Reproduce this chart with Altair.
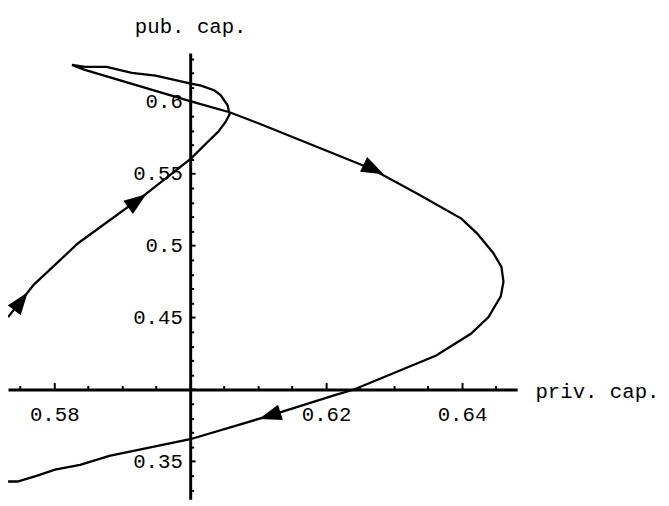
import altair as alt
import pandas as pd

# trajectory (private capital, public capital), in travel order
priv_cap = [0.5732, 0.5770, 0.5835, 0.5935, 0.6001, 0.6026, 0.6041, 0.6052, 0.6058,
            0.6055, 0.6045, 0.6036, 0.6016, 0.6001, 0.5949, 0.5914, 0.5877, 0.5845,
            0.5826, 0.5845, 0.6001, 0.6058, 0.6103, 0.6229, 0.6268, 0.6335, 0.6399,
            0.6422, 0.6446, 0.6458, 0.6461, 0.6457, 0.6439, 0.6413, 0.6362, 0.6241,
            0.6214, 0.6117, 0.6000, 0.5881, 0.5838, 0.5801, 0.5775, 0.5746, 0.5732]
pub_cap = [0.4503, 0.4729, 0.5017, 0.5360, 0.5606, 0.5723, 0.5791, 0.5860, 0.5914,
           0.5976, 0.6045, 0.6079, 0.6113, 0.6127, 0.6182, 0.6202, 0.6243, 0.6243,
           0.6257, 0.6223, 0.6003, 0.5928, 0.5846, 0.5606, 0.5531, 0.5360, 0.5188,
           0.5086, 0.4949, 0.4853, 0.4750, 0.4647, 0.4503, 0.4387, 0.4236, 0.4000,
           0.3962, 0.3818, 0.3654, 0.3538, 0.3476, 0.3442, 0.3401, 0.3360, 0.3360]

# direction arrows along the trajectory
arrow_priv = [0.5751, 0.5922, 0.6270, 0.6117]
arrow_pub = [0.4613, 0.5312, 0.5531, 0.3818]
arrow_angle = [37, 54, 116, 253]

# axis ticks
x_ticks = [0.575, 0.58, 0.585, 0.59, 0.595, 0.6, 0.605, 0.61, 0.615, 0.62,
           0.625, 0.63, 0.635, 0.64, 0.645]
y_ticks = [0.33, 0.34, 0.35, 0.36, 0.37, 0.38, 0.39, 0.40, 0.41, 0.42, 0.43,
           0.44, 0.45, 0.46, 0.47, 0.48, 0.49, 0.50, 0.51, 0.52, 0.53, 0.54,
           0.55, 0.56, 0.57, 0.58, 0.59, 0.60, 0.61, 0.62, 0.63]

x_domain = [0.57319, 0.64812]
y_domain = [0.32363, 0.63390]
W, H = 517, 453

line_df = pd.DataFrame({"i": list(range(len(priv_cap))), "x": priv_cap, "y": pub_cap})
arrow_df = pd.DataFrame({"x": arrow_priv, "y": arrow_pub, "a": arrow_angle})

FONT = "Liberation Mono"
FS = 21

x_major = "abs(datum.value*50 - round(datum.value*50)) < 0.001"
y_major = "abs(datum.value*20 - round(datum.value*20)) < 0.001"

# pixel positions of the crossing point (0.6, 0.4)
x_cross_px = W * (0.6 - x_domain[0]) / (x_domain[1] - x_domain[0])
y_cross_px = H * (y_domain[1] - 0.4) / (y_domain[1] - y_domain[0])

x_axis = alt.Axis(
    orient="top", offset=-y_cross_px, values=x_ticks, grid=False,
    domainColor="black", domainWidth=3, tickColor="black", tickWidth=2,
    tickSize={"condition": {"test": x_major, "value": 7}, "value": 4},
    labelExpr=f"{x_major} && abs(datum.value - 0.6) > 0.001 ? format(datum.value, '.2~f') : ''",
    labelFont=FONT, labelFontSize=FS, labelColor="black", labelPadding=-33,
    labelBaseline="middle", labelOverlap=False, labelFlush=False,
    title="priv. cap.", titleFont=FONT, titleFontSize=FS, titleFontWeight="normal",
    titleColor="black", titleX=W + 18, titleY=8, titleAlign="left",
    titleBaseline="alphabetic", titleAngle=0,
)
y_axis = alt.Axis(
    orient="right", offset=-(W - x_cross_px), values=y_ticks, grid=False,
    domainColor="black", domainWidth=3, tickColor="black", tickWidth=2,
    tickSize={"condition": {"test": y_major, "value": 5}, "value": 3.5},
    labelExpr=f"{y_major} && abs(datum.value - 0.4) > 0.001 ? format(datum.value, '.2~f') : ''",
    labelFont=FONT, labelFontSize=FS, labelColor="black", labelPadding=-13,
    labelAlign="right", labelBaseline="middle", labelOverlap=False, labelFlush=False,
    title="pub. cap.", titleFont=FONT, titleFontSize=FS, titleFontWeight="normal",
    titleColor="black", titleX=0, titleY=-21, titleAlign="center",
    titleBaseline="alphabetic", titleAngle=0,
)

xs = alt.Scale(domain=x_domain, nice=False, zero=False)
ys = alt.Scale(domain=y_domain, nice=False, zero=False)

line = alt.Chart(line_df).mark_line(color="black", strokeWidth=2.3, clip=True).encode(
    x=alt.X("x:Q", scale=xs, axis=x_axis),
    y=alt.Y("y:Q", scale=ys, axis=y_axis),
    order="i:Q",
)

arrows = alt.Chart(arrow_df).mark_point(
    shape="M0,-1L-0.72,1L0.72,1Z", filled=True, color="black", opacity=1,
    size=520, strokeWidth=0, clip=True,
).encode(
    x=alt.X("x:Q", scale=xs, axis=x_axis),
    y=alt.Y("y:Q", scale=ys, axis=y_axis),
    angle=alt.Angle("a:Q", scale=None),
)

chart = alt.layer(line, arrows).properties(
    width=W, height=H,
    autosize=alt.AutoSizeParams(type="none"),
    padding={"left": 0, "top": 42, "right": 146, "bottom": 3},
    background="white",
).configure_view(stroke=None)

chart.save("out.html", embed_options={"renderer": "svg", "actions": False})
